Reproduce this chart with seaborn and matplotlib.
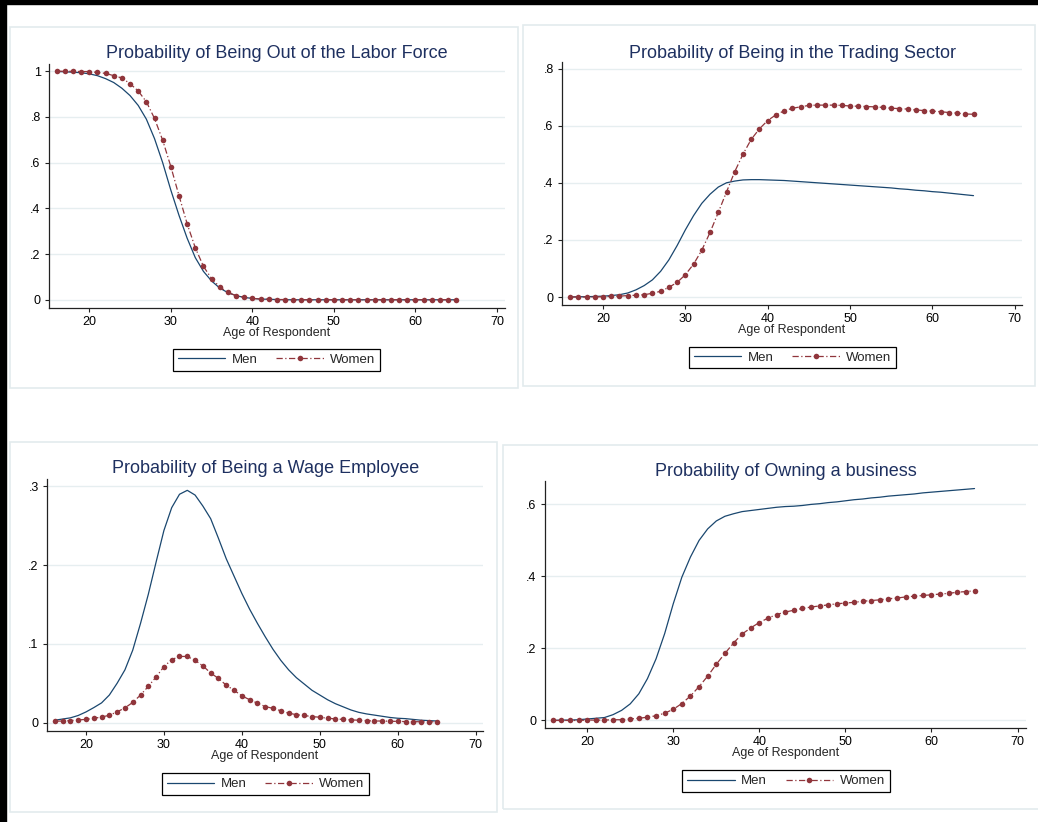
import numpy as np
import matplotlib
matplotlib.use("Agg")
import matplotlib.pyplot as plt
from matplotlib.patches import Rectangle
import seaborn as sns

# --- data ---
ages = np.arange(16, 66)

out_lf_men = [.998, .997, .995, .993, .988, .980, .967, .950, .925, .893,
              .850, .790, .705, .600, .480, .370, .270, .185, .125, .083,
              .052, .032, .019, .011, .007, .004, .003, .002, .001, .001,
              .001, .001, .001, .001, .001, .001, .001, .001, .001, .001,
              .001, .001, .001, .001, .001, .001, .001, .001, .001, .001]
out_lf_women = [1.000, .999, .999, .998, .998, .994, .990, .980, .970, .945,
                .913, .866, .793, .698, .583, .456, .333, .228, .147, .093,
                .057, .033, .019, .012, .007, .004, .003, .002, .002, .001,
                .001, .001, .001, .001, .001, .001, .001, .001, .001, .001,
                .001, .001, .001, .001, .001, .001, .001, .001, .001, .001]

trade_men = [.000, .001, .001, .002, .003, .005, .008, .014, .025, .040,
             .060, .090, .130, .180, .235, .285, .328, .360, .385, .400,
             .406, .410, .411, .411, .410, .409, .408, .406, .404, .402,
             .400, .398, .396, .394, .392, .390, .388, .386, .384, .382,
             .379, .377, .374, .372, .369, .367, .364, .361, .358, .355]
trade_women = [.000, .000, .000, .000, .001, .002, .003, .005, .006, .008,
               .013, .020, .034, .051, .078, .115, .164, .226, .296, .368,
               .439, .500, .552, .589, .618, .638, .652, .661, .666, .671,
               .672, .672, .672, .671, .669, .668, .667, .666, .664, .661,
               .660, .658, .655, .653, .651, .649, .646, .644, .641, .640]

wage_men = [.003, .0045, .006, .009, .0135, .019, .025, .035, .050, .067,
            .092, .126, .163, .204, .244, .273, .290, .295, .289, .275,
            .259, .234, .208, .186, .164, .144, .126, .109, .093, .079,
            .067, .057, .049, .041, .035, .029, .024, .020, .016, .013,
            .011, .0095, .008, .0065, .0055, .005, .004, .003, .0025, .002]
wage_women = [.0017, .002, .0025, .0034, .004, .0055, .007, .0093, .0136, .0187,
              .0256, .035, .046, .058, .071, .080, .084, .084, .079, .072,
              .063, .056, .0475, .041, .034, .029, .0246, .0204, .018, .015,
              .012, .010, .009, .0076, .0068, .0055, .0047, .004, .0034, .003,
              .0025, .002, .002, .0017, .0015, .0013, .0012, .001, .001, .0009]

own_men = [.000, .001, .001, .002, .004, .006, .008, .016, .028, .046,
           .074, .116, .171, .241, .324, .398, .454, .500, .532, .554,
           .567, .574, .580, .583, .586, .589, .592, .594, .595, .597,
           .600, .602, .605, .607, .610, .613, .615, .618, .620, .623,
           .625, .627, .629, .632, .634, .636, .638, .640, .642, .644]
own_women = [.000, .000, .000, .000, .001, .001, .001, .002, .002, .004,
             .006, .009, .013, .020, .031, .047, .068, .094, .123, .156,
             .186, .215, .240, .257, .272, .284, .294, .301, .306, .311,
             .315, .318, .321, .324, .326, .328, .331, .333, .335, .338,
             .340, .343, .345, .347, .349, .351, .353, .356, .358, .360]

titles = ["Probability of Being Out of the Labor Force",
          "Probability of Being in the Trading Sector",
          "Probability of Being a Wage Employee",
          "Probability of Owning a business"]
xticks = [20, 30, 40, 50, 60, 70]

# --- style ---
sns.set_style("white")
plt.rcParams["font.family"] = ["Liberation Sans", "DejaVu Sans"]

W, H = 1038, 822
NAVY = "#1a476f"
MAROON = "#90353b"
GRID = "#e6eef0"
FRAME = "#e3ebed"
TITLE_C = "#1e3060"

fig = plt.figure(figsize=(W / 100, H / 100), dpi=100)


def fx(x):
    return x / W


def fy(y):
    return 1 - y / H


# outer black border (top and left) and the panel frames
fig.add_artist(Rectangle((0, fy(4.5)), 1, 4.5 / H, transform=fig.transFigure,
                         color="black", zorder=5))
fig.add_artist(Rectangle((0, 0), 5.5 / W, 1, transform=fig.transFigure,
                         color="black", zorder=5))
frames = [(10, 518, 27, 388), (523, 1035, 25, 386),
          (10, 497, 442, 812), (503, 1040, 445, 809)]
for l, r, t, b in frames:
    fig.add_artist(Rectangle((fx(l), fy(b)), (r - l) / W, (b - t) / H,
                             transform=fig.transFigure, fill=False,
                             edgecolor=FRAME, linewidth=1.2))

panels = [
    dict(box=(49, 505, 64, 308), xlim=(15.06, 70.98), ylim=(-0.035, 1.031),
         yt=[0, .2, .4, .6, .8, 1], yl=["0", ".2", ".4", ".6", ".8", "1"],
         men=out_lf_men, women=out_lf_women, title_xy=(276.5, 58.5),
         leg_xy=(276.5, 360)),
    dict(box=(562, 1022, 62, 305), xlim=(15.02, 70.89), ylim=(-0.028, 0.823),
         yt=[0, .2, .4, .6, .8], yl=["0", ".2", ".4", ".6", ".8"],
         men=trade_men, women=trade_women, title_xy=(792.3, 58.3),
         leg_xy=(792.5, 357.5)),
    dict(box=(47, 483, 479, 731), xlim=(15.0, 70.94), ylim=(-0.0107, 0.3094),
         yt=[0, .1, .2, .3], yl=["0", ".1", ".2", ".3"],
         men=wage_men, women=wage_women, title_xy=(266, 473.3),
         leg_xy=(265.5, 784)),
    dict(box=(545, 1026, 481, 728), xlim=(15.1, 70.98), ylim=(-0.021, 0.665),
         yt=[0, .2, .4, .6], yl=["0", ".2", ".4", ".6"],
         men=own_men, women=own_women, title_xy=(786, 476),
         leg_xy=(786, 781)),
]

for p, title in zip(panels, titles):
    l, r, t, b = p["box"]
    ax = fig.add_axes([fx(l), fy(b), (r - l) / W, (b - t) / H])
    ax.set_facecolor("white")
    sns.lineplot(x=ages, y=p["men"], ax=ax, color=NAVY, linewidth=0.9,
                 label="Men", legend=False)
    sns.lineplot(x=ages, y=p["women"], ax=ax, color=MAROON, linewidth=0.9,
                 linestyle=(0, (5, 2, 1, 2)), marker="o", markersize=4,
                 markeredgewidth=0, label="Women", legend=False)
    ax.set_xlim(*p["xlim"])
    ax.set_ylim(*p["ylim"])
    ax.set_xticks(xticks)
    ax.set_xticklabels([str(v) for v in xticks])
    ax.set_yticks(p["yt"])
    ax.set_yticklabels(p["yl"])
    ax.yaxis.grid(True, color=GRID, linewidth=1.0)
    ax.xaxis.grid(False)
    ax.set_axisbelow(True)
    for s in ["top", "right"]:
        ax.spines[s].set_visible(False)
    for s in ["left", "bottom"]:
        ax.spines[s].set_color("#222222")
        ax.spines[s].set_linewidth(0.9)
    ax.tick_params(axis="both", direction="out", length=3, width=0.8,
                   pad=3, labelsize=9, colors="#222222", labelcolor="black")
    ax.tick_params(axis="x", bottom=True)
    ax.tick_params(axis="y", left=True)
    ax.set_xlabel("Age of Respondent", fontsize=9, labelpad=-1)
    ax.set_ylabel("")

    fig.text(fx(p["title_xy"][0]), fy(p["title_xy"][1]), title,
             ha="center", va="baseline", fontsize=13, color=TITLE_C)

    handles, labels = ax.get_legend_handles_labels()
    leg = fig.legend(handles, labels, loc="center",
                     bbox_to_anchor=(fx(p["leg_xy"][0]), fy(p["leg_xy"][1])),
                     ncol=2, fontsize=9.5, frameon=True, fancybox=False,
                     edgecolor="black", framealpha=1, borderpad=0.35,
                     handlelength=3.6, handletextpad=0.5, columnspacing=1.4,
                     borderaxespad=0)
    leg.get_frame().set_linewidth(0.9)

fig.savefig("out.png", dpi=100, facecolor="white")
